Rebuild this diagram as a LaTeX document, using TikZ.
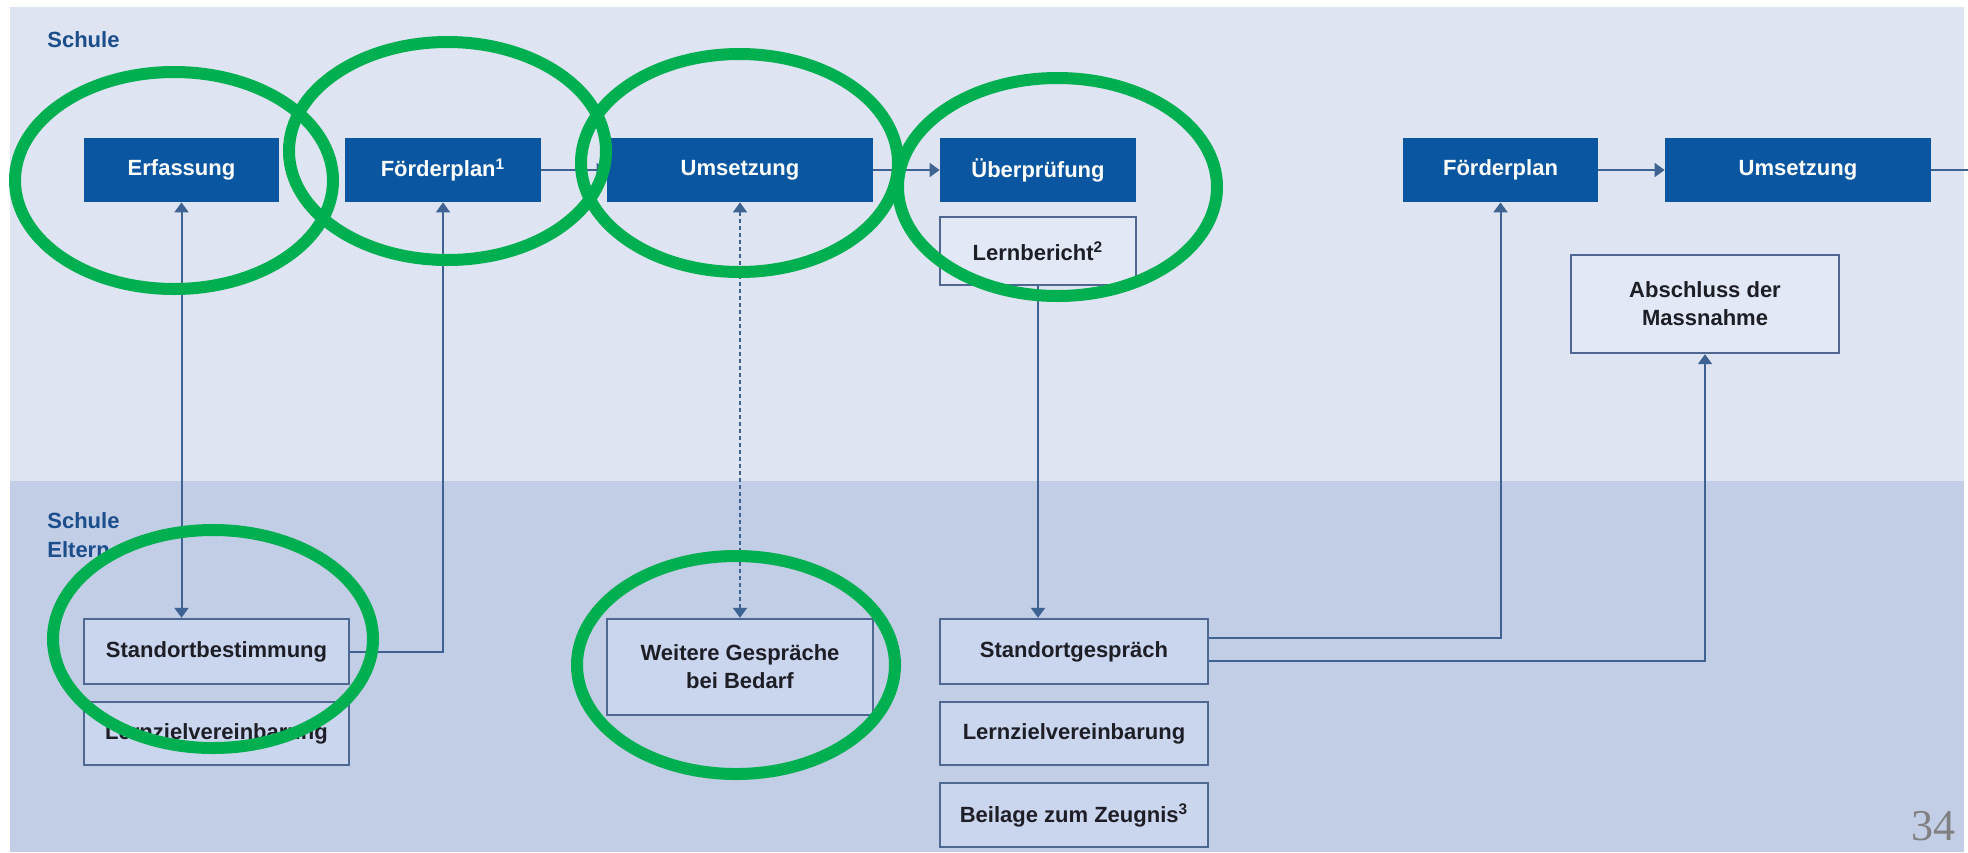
\documentclass[tikz,border=0pt]{standalone}
\usepackage{fontspec}
\setmainfont{Liberation Sans}
\newfontfamily\pnumfont{Liberation Serif}
\usetikzlibrary{arrows.meta}
\definecolor{bgup}{RGB}{222,228,242}
\definecolor{bglow}{RGB}{194,205,230}
\definecolor{dkblue}{RGB}{11,86,160}
\definecolor{lineblue}{RGB}{62,98,146}
\definecolor{boxborder}{RGB}{78,104,145}
\definecolor{boxup}{RGB}{226,232,246}
\definecolor{boxlow}{RGB}{202,213,238}
\definecolor{labelblue}{RGB}{28,78,140}
\definecolor{ringgreen}{RGB}{0,176,80}
\definecolor{txt}{RGB}{30,30,38}
\tikzset{
  boxfont/.style={font=\bfseries\fontsize{11}{14}\selectfont},
  darkbox/.style={boxfont, fill=dkblue, text=white, inner sep=0pt, minimum height=32pt},
  lightbox/.style={boxfont, draw=boxborder, line width=1.2pt, text=txt, inner sep=0pt, align=center},
  conn/.style={draw=lineblue, line width=1pt},
  arr/.style={conn, -{Triangle[width=7pt,length=5pt]}},
  darr/.style={conn, {Triangle[width=7pt,length=5pt]}-{Triangle[width=7pt,length=5pt]}},
  lanelabel/.style={font=\bfseries\fontsize{11}{13}\selectfont, text=labelblue, anchor=west, inner sep=0pt},
  ring/.style={draw=ringgreen, line width=6pt}
}
\begin{document}
\begin{tikzpicture}[x=0.5pt,y=-0.5pt]
\useasboundingbox (0,0) rectangle (1968,852);
\fill[white] (0,0) rectangle (1968,852);
\fill[bgup] (10,7) rectangle (1964,481);
\fill[bglow] (10,481) rectangle (1964,852);

% lane labels
\node[lanelabel] (lschule) at (47,40) {Schule};
\node[lanelabel] (lschule2) at (47,521) {Schule};
\node[lanelabel] (leltern) at (47,550) {Eltern};

% top row
\node[darkbox, minimum width=97.5pt] (erf) at (181.5,170) {Erfassung};
\node[darkbox, minimum width=98pt] (fp1) at (443,170) {Förderplan\textsuperscript{1}};
\node[darkbox, minimum width=133pt] (ums1) at (740,170) {Umsetzung};
\node[darkbox, minimum width=98pt] (ueb) at (1038,170) {Überprüfung};
\node[darkbox, minimum width=97.5pt] (fp2) at (1500.5,170) {Förderplan};
\node[darkbox, minimum width=133pt] (ums2) at (1798,170) {Umsetzung};
\coordinate (rightend) at (1968,170);

% light boxes upper
\node[lightbox, fill=boxup, minimum width=98pt, minimum height=34pt] (lern) at (1038,251) {Lernbericht\textsuperscript{2}};
\node[lightbox, fill=boxup, minimum width=134pt, minimum height=49pt] (absch) at (1705,304) {Abschluss der\\Massnahme};

% light boxes lower
\node[lightbox, fill=boxlow, minimum width=132.5pt, minimum height=32.5pt] (stb) at (216.5,651.5) {Standortbestimmung};
\node[lightbox, fill=boxlow, minimum width=132.5pt, minimum height=31.5pt] (lzv1) at (216.5,733.5) {Lernzielvereinbarung};
\node[lightbox, fill=boxlow, minimum width=133pt, minimum height=48pt] (weit) at (740,667) {Weitere Gespräche\\bei Bedarf};
\node[lightbox, fill=boxlow, minimum width=134pt, minimum height=32.5pt] (stg) at (1074,651.5) {Standortgespräch};
\node[lightbox, fill=boxlow, minimum width=134pt, minimum height=31.5pt] (lzv2) at (1074,733.5) {Lernzielvereinbarung};
\node[lightbox, fill=boxlow, minimum width=134pt, minimum height=32pt] (beil) at (1074,815) {Beilage zum Zeugnis\textsuperscript{3}};

% connectors
\draw[arr] (fp1.east) -- (ums1.west);
\draw[arr] (ums1.east) -- (ueb.west);
\draw[arr] (fp2.east) -- (ums2.west);
\draw[conn] (ums2.east) -- (rightend);
\draw[darr] (erf.south) -- (erf.south |- stb.north);
\draw[arr] (stb.east) -| (fp1.south);
\draw[darr, dash pattern=on 2pt off 1.5pt] (ums1.south) -- (weit.north);
\draw[arr] (lern.south) -- (lern.south |- stg.north);
\coordinate (stgA) at ([yshift=6.75pt]stg.east);
\coordinate (stgB) at ([yshift=-4.75pt]stg.east);
\draw[arr] (stgA) -| (fp2.south);
\draw[arr] (stgB) -| (absch.south);

% page number
\node[font=\pnumfont\fontsize{22}{22}\selectfont, text=gray, anchor=base east, inner sep=0pt] (pnum) at (1956,840) {34};

% green rings
\draw[ring] (174,180.5) ellipse [x radius=79.5pt, y radius=54.25pt];
\draw[ring] (447.5,151) ellipse [x radius=79.25pt, y radius=54.5pt];
\draw[ring] (739.5,163) ellipse [x radius=79.25pt, y radius=54.5pt];
\draw[ring] (1057.5,187) ellipse [x radius=79.75pt, y radius=54.5pt];
\draw[ring] (213,639) ellipse [x radius=80pt, y radius=54.5pt];
\draw[ring] (736,665) ellipse [x radius=79.5pt, y radius=54.5pt];
\end{tikzpicture}
\end{document}
